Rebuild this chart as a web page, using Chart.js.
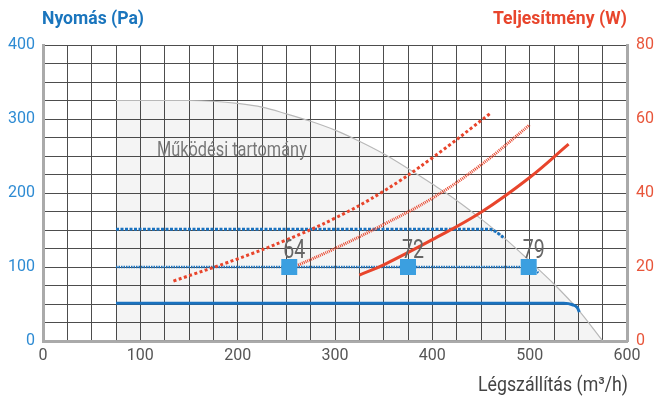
<!DOCTYPE html>
<html>
<head>
<meta charset="utf-8">
<script src="https://cdn.jsdelivr.net/npm/chart.js@4.4.1/dist/chart.umd.min.js"></script>
<style>
html,body{margin:0;padding:0;background:#fff;}
canvas{display:block;}
</style>
</head>
<body>
<canvas id="c" width="657" height="400"></canvas>
<script>
// ---- data ----
const regionX = [75,100,125,150,175,200,225,250,275,300,325,350,375,400,425,450,475,500,525,550,575];
const regionY = [325,325,325,325,324,321,316,307,297,285,270,253,233,212,190,165,138,108,77,42,0];

const pLowX  = [75,535,544,549,551];
const pLowY  = [51,51,49,45,39];
const pMidX  = [75,497,504,509];
const pMidY  = [100,100,97,92];
const pHighX = [75,458,465,470,473];
const pHighY = [151,151,148,143,140];

const wHighX = [134,200,250,300,350,400,460];
const wHighY = [16.2,22.2,27.3,33.2,40.5,49.5,61.6];
const wMidX  = [262,300,350,400,450,500];
const wMidY  = [20.5,25.0,31.5,38.6,47.6,58.4];
const wLowX  = [325,350,400,450,500,540];
const wLowY  = [17.8,20.6,27.4,34.8,44.2,53.2];

const markerX = [253,375,499];
const markerY = [100,100,100];
const markerLabels = ['64','72','79'];

const regionLabel = 'Működési tartomány';
const regionLabelX = 117;
const regionLabelY = 250;

const leftTitle = 'Nyomás (Pa)';
const rightTitle = 'Teljesítmény (W)';
const xTitle = 'Légszállítás (m³/h)';

const xTickStep = 100, yTickStep = 100, y2TickStep = 20;

// ---- helpers ----
const pts = (xs, ys) => xs.map((x, i) => ({x, y: ys[i]}));
const FONT = "Roboto, 'Liberation Sans', sans-serif";
const BLUE = '#1a72bf';
const RED = '#e8452c';

function fitText(ctx, text, x, y, width, align) {
  const w = ctx.measureText(text).width;
  const sx = width / w;
  ctx.save();
  ctx.translate(x, y);
  ctx.scale(sx, 1);
  ctx.textAlign = align;
  ctx.fillText(text, 0, 0);
  ctx.restore();
}

const textPlugin = {
  id: 'texts',
  afterDatasetsDraw(chart) {
    const ctx = chart.ctx;
    const xs = chart.scales.x, ys = chart.scales.y;
    ctx.save();
    ctx.textBaseline = 'alphabetic';
    ctx.font = '25px ' + FONT;
    ctx.fillStyle = '#666';
    markerLabels.forEach((t, i) => {
      fitText(ctx, t, xs.getPixelForValue(markerX[i]) + 5, ys.getPixelForValue(markerY[i]) - 9, 22, 'center');
    });
    ctx.font = '21px ' + FONT;
    ctx.fillStyle = '#777';
    fitText(ctx, regionLabel, xs.getPixelForValue(regionLabelX), ys.getPixelForValue(regionLabelY), 150, 'left');
    ctx.restore();
  },
  afterDraw(chart) {
    const ctx = chart.ctx;
    const a = chart.chartArea;
    ctx.save();
    ctx.textBaseline = 'alphabetic';
    ctx.font = 'bold 19px ' + FONT;
    ctx.fillStyle = '#1a75bd';
    fitText(ctx, leftTitle, a.left - 1, 24, 102, 'left');
    ctx.fillStyle = RED;
    fitText(ctx, rightTitle, a.right, 24, 134, 'right');
    ctx.font = '20px ' + FONT;
    ctx.fillStyle = '#444';
    fitText(ctx, xTitle, a.right + 1, 391, 150, 'right');
    ctx.restore();
  }
};

const lineDs = (data, color, width, dash, axis, order, mono) => ({
  data, borderColor: color, backgroundColor: color, borderWidth: width,
  borderDash: dash, pointRadius: 0, fill: false, yAxisID: axis, order,
  tension: 0.4, cubicInterpolationMode: mono ? 'monotone' : 'default', borderCapStyle: 'butt'
});

new Chart(document.getElementById('c'), {
  type: 'line',
  data: {
    datasets: [
      {
        data: pts(markerX, markerY), showLine: false, pointStyle: 'rect',
        pointRadius: 11.3, pointBackgroundColor: '#3b9fe0', pointBorderWidth: 0,
        yAxisID: 'y', order: 0
      },
      lineDs(pts(wLowX, wLowY), RED, 3, [], 'y2', 1, false),
      lineDs(pts(wMidX, wMidY), RED, 3, [1, 1], 'y2', 1, false),
      lineDs(pts(wHighX, wHighY), RED, 3, [3, 2.5], 'y2', 1, false),
      lineDs(pts(pLowX, pLowY), BLUE, 3, [], 'y', 2, true),
      lineDs(pts(pMidX, pMidY), BLUE, 2.5, [1.5, 1], 'y', 2, true),
      lineDs(pts(pHighX, pHighY), BLUE, 3, [3, 1.5], 'y', 2, true),
      {
        data: pts(regionX, regionY), borderColor: '#b8b8b8', borderWidth: 1.2,
        backgroundColor: 'rgba(0,0,0,0.045)', fill: 'origin', pointRadius: 0,
        cubicInterpolationMode: 'monotone', yAxisID: 'y', order: 10
      }
    ]
  },
  options: {
    responsive: false,
    animation: false,
    devicePixelRatio: 1,
    layout: { padding: { top: 45, left: 0, right: 0, bottom: 0 } },
    plugins: { legend: { display: false }, tooltip: { enabled: false } },
    scales: {
      x: {
        type: 'linear', min: 0, max: 600,
        afterFit: s => { s.height = 59; },
        grid: { color: '#4d4d4d', lineWidth: 1, drawTicks: false },
        border: { color: '#aaaaaa', width: 3 },
        ticks: {
          stepSize: 25, autoSkip: false, maxRotation: 0, padding: 5,
          color: '#555', font: { family: FONT, size: 16 },
          callback: v => (v % xTickStep === 0 ? String(v) : '')
        }
      },
      y: {
        position: 'left', min: 0, max: 400,
        afterFit: s => { s.width = 43; },
        grid: { color: '#4d4d4d', lineWidth: 1, drawTicks: false },
        border: { color: '#aaaaaa', width: 3 },
        ticks: {
          stepSize: 25, autoSkip: false, padding: 8,
          color: '#2e8bd3', font: { family: FONT, size: 16 },
          callback: v => (v % yTickStep === 0 ? String(v) : '')
        }
      },
      y2: {
        position: 'right', min: 0, max: 80,
        afterFit: s => { s.width = 30; },
        grid: { drawOnChartArea: false, drawTicks: false },
        border: { color: '#aaaaaa', width: 3 },
        ticks: {
          stepSize: 5, autoSkip: false, padding: 9,
          color: '#e8553a', font: { family: FONT, size: 16 },
          callback: v => (v % y2TickStep === 0 ? String(v) : '')
        }
      }
    }
  },
  plugins: [textPlugin]
});
</script>
</body>
</html>
